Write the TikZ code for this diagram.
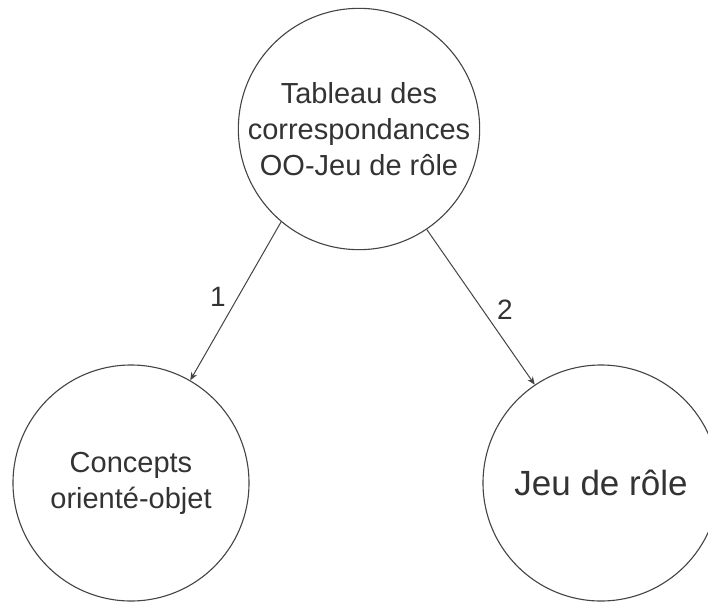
\documentclass[tikz,border=0pt]{standalone}
\usepackage{fontspec}
\setmainfont{Liberation Sans}
\usetikzlibrary{arrows.meta}
\definecolor{ink}{HTML}{333333}
\definecolor{edge}{HTML}{444444}
\tikzset{
  bubble/.style={circle, draw=edge, line width=1.1pt, minimum size=236pt, inner sep=0pt, text=ink, align=center, font=\fontsize{29}{36}\selectfont},
  conn/.style={draw=edge, line width=1pt, -{Stealth[length=8pt,width=6.5pt]}},
  lbl/.style={text=ink, font=\fontsize{28}{34}\selectfont, inner sep=0pt}
}
\begin{document}
\begin{tikzpicture}[x=1pt,y=-1pt]
\useasboundingbox (0,0) rectangle (708,604);
\fill[white] (0,0) rectangle (708,604);
\node[bubble] (top) at (359,129) {Tableau des\\correspondances\\OO-Jeu de rôle};
\node[bubble] (left) at (131,483) {Concepts\\orienté-objet};
\node[bubble, font=\fontsize{35}{42}\selectfont] (right) at (601,483) {Jeu de rôle};
\draw[conn] (top.230.7) -- (left.60.3);
\draw[conn] (top.304) -- (right.124.8);
\node[lbl] (l1) at (218,297) {1};
\node[lbl] (l2) at (505,310) {2};
\end{tikzpicture}
\end{document}
